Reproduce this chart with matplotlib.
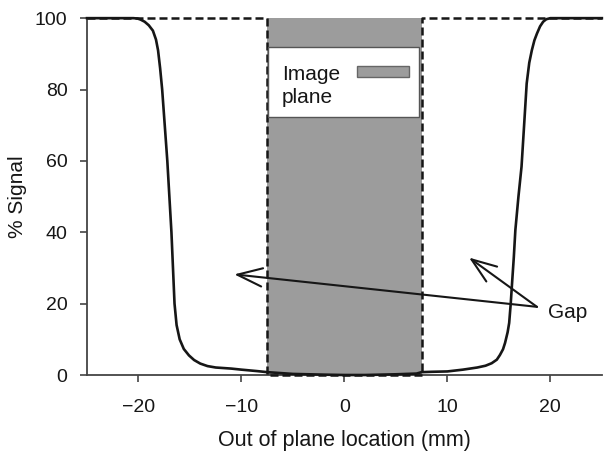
import matplotlib
matplotlib.use("Agg")
import matplotlib.pyplot as plt
from matplotlib.patches import Rectangle

plt.rcParams["font.family"] = ["Liberation Sans", "DejaVu Sans"]

# measured slice profile (% signal vs out of plane location, mm)
profile_x = [-25, -20.5, -20.1, -19.8, -19.4, -19.0, -18.6, -18.3, -18.1, -17.9,
             -17.7, -17.45, -17.2, -17.0, -16.8, -16.65, -16.5, -16.3, -16.0,
             -15.6, -15.1, -14.6, -14.0, -13.3, -12.5, -11, -10, -8.5, -7.5,
             -5, -2, 0, 2, 5, 7, 7.5, 8.5, 10, 11.5, 12.9, 13.7, 14.3, 14.8,
             15.1, 15.4, 15.6, 15.85, 16.0, 16.15, 16.3, 16.45, 16.6, 16.9,
             17.2, 17.45, 17.7, 17.95, 18.2, 18.45, 18.7, 19.0, 19.3, 19.6,
             20, 25]
profile_y = [100, 100, 99.9, 99.6, 99, 98, 96.5, 94, 91, 86,
             80, 70, 60, 50, 40, 30, 20, 14, 10,
             7.3, 5.5, 4.2, 3.2, 2.5, 2.1, 1.8, 1.5, 1.1, 0.8,
             0.3, 0.1, 0, 0, 0.2, 0.4, 0.8, 0.9, 1.0, 1.5, 2.1, 2.6, 3.3, 4.3,
             5.6, 7.2, 9, 12, 14.6, 20, 26.6, 33, 40.6, 50,
             58.4, 70, 81.7, 87.5, 91, 93.8, 95.7, 97.7, 99, 99.7,
             100, 100]

# ideal (rectangular) gap profile
ideal_x = [-25, -7.5, -7.5, 7.5, 7.5, 25]
ideal_y = [100, 100, 0, 0, 100, 100]

# image plane
plane_lo, plane_hi = -7.5, 7.5

xticks = [-20, -10, 0, 10, 20]
yticks = [0, 20, 40, 60, 80, 100]

gray = "#9c9c9c"
ink = "#161616"

fig = plt.figure(figsize=(6.05, 4.54), dpi=100)
ax = fig.add_axes([0.1438, 0.174, 0.851, 0.786])

ax.axvspan(plane_lo, plane_hi, color=gray, lw=0, zorder=1)
ax.plot(ideal_x, ideal_y, color=ink, lw=1.8, dashes=(3.2, 1.6), zorder=3,
        clip_on=False)
ax.plot(profile_x, profile_y, color=ink, lw=1.9, zorder=4, clip_on=False,
        solid_joinstyle="round")

ax.set_xlim(-25, 25)
ax.set_ylim(0, 100)
ax.set_xticks(xticks)
ax.set_yticks(yticks)
ax.set_xticklabels([str(t).replace("-", "\u2212") for t in xticks])

for side in ["top", "right"]:
    ax.spines[side].set_visible(False)
for side in ["left", "bottom"]:
    ax.spines[side].set_color("#444444")
    ax.spines[side].set_linewidth(1.3)
ax.tick_params(axis="both", direction="out", length=5, width=1.2,
               color="#444444", labelsize=14, labelcolor=ink)
ax.tick_params(axis="x", pad=12)
ax.tick_params(axis="y", pad=9)

ax.set_xlabel("Out of plane location (mm)", fontsize=15.5, color=ink, labelpad=10)
ax.set_ylabel("% Signal", fontsize=15, color=ink, labelpad=6)

# legend box (drawn by hand so the key sits next to the first line)
ax.add_patch(Rectangle((0.351, 0.723), 0.294, 0.196, transform=ax.transAxes,
                       facecolor="white", edgecolor="#555555", lw=1.0, zorder=5))
ax.text(0.379, 0.762, "Image\nplane", transform=ax.transAxes, fontsize=15,
        color=ink, ha="left", va="baseline", linespacing=1.25, zorder=6)
ax.add_patch(Rectangle((0.524, 0.834), 0.101, 0.031, transform=ax.transAxes,
                       facecolor=gray, edgecolor="#666666", lw=1.0, zorder=6))

# "Gap" arrows
gap_tail = (18.7, 19.1)
gap_heads = [(-10.7, 28.2), (12.1, 32.9)]
for head in gap_heads:
    ax.annotate("", xy=head, xytext=gap_tail,
                arrowprops=dict(arrowstyle="->,head_length=0.9,head_width=0.33",
                                color=ink, lw=1.5, mutation_scale=20,
                                shrinkA=0, shrinkB=0),
                zorder=7)
ax.text(19.8, 16.0, "Gap", fontsize=15, color=ink, ha="left", va="baseline")

fig.savefig("out.png", dpi=100)
